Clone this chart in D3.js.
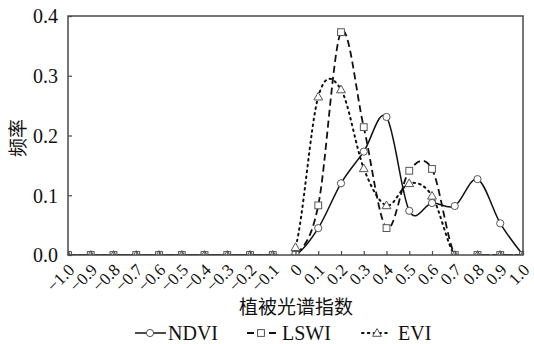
<!DOCTYPE html>
<html>
<head>
<meta charset="utf-8">
<script src="https://cdn.jsdelivr.net/npm/d3@7"></script>
<style>
  html, body { margin: 0; padding: 0; background: #fff; }
  svg { display: block; }
</style>
</head>
<body>
<svg id="chart" width="534" height="344"></svg>
<script>
// Vegetation index values (x categories)
const indexValues = [-1.0, -0.9, -0.8, -0.7, -0.6, -0.5, -0.4, -0.3, -0.2, -0.1,
                     0.0, 0.1, 0.2, 0.3, 0.4, 0.5, 0.6, 0.7, 0.8, 0.9, 1.0];
const xTickLabels = ["−1.0", "−0.9", "−0.8", "−0.7", "−0.6", "−0.5", "−0.4", "−0.3", "−0.2", "−0.1",
                     "0", "0.1", "0.2", "0.3", "0.4", "0.5", "0.6", "0.7", "0.8", "0.9", "1.0"];
const yTickValues = [0.0, 0.1, 0.2, 0.3, 0.4];
const yTickLabels = ["0.0", "0.1", "0.2", "0.3", "0.4"];

// Frequency of each index value
const ndvi = [0, 0, 0, 0, 0, 0, 0, 0, 0, 0,
              0, 0.045, 0.120, 0.173, 0.231, 0.074, 0.087, 0.082, 0.127, 0.053, 0];
const lswi = [0, 0, 0, 0, 0, 0, 0, 0, 0, 0,
              0, 0.083, 0.373, 0.214, 0.045, 0.141, 0.144, 0, 0, 0, 0];
const evi  = [0, 0, 0, 0, 0, 0, 0, 0, 0, 0,
              0.013, 0.265, 0.277, 0.145, 0.083, 0.120, 0.099, 0, 0, 0, 0];

const seriesNames = ["NDVI", "LSWI", "EVI"];

const svg = d3.select("#chart");
const serif = '"Liberation Serif", "Times New Roman", serif';
const cjk = '"Noto Sans CJK SC", "Noto Sans CJK JP", sans-serif';
const frameColor = "#4a4a4a";

const plot = { left: 68, right: 523, top: 16, bottom: 255 };

const x = d3.scaleLinear().domain([-1, 1]).range([plot.left, plot.right]);
const y = d3.scaleLinear().domain([0, 0.4]).range([plot.bottom, plot.top]);

svg.append("defs").append("clipPath").attr("id", "plotClip")
  .append("rect")
  .attr("x", plot.left).attr("y", plot.top)
  .attr("width", plot.right - plot.left).attr("height", plot.bottom - plot.top);

// Series styles
const styles = {
  NDVI: { values: ndvi, dash: null, width: 1.5, marker: "circle" },
  LSWI: { values: lswi, dash: "7,4", width: 1.8, marker: "square" },
  EVI:  { values: evi,  dash: "1.6,4.2", width: 2, marker: "triangle" }
};

const line = d3.line()
  .x(d => x(d[0]))
  .y(d => y(d[1]))
  .curve(d3.curveCardinal.tension(0));

const layer = svg.append("g").attr("clip-path", "url(#plotClip)");

function drawMarker(g, type, cx, cy) {
  const stroke = "#555", sw = 1;
  if (type === "circle") {
    g.append("circle").attr("cx", cx).attr("cy", cy).attr("r", 3.6)
      .attr("fill", "#fff").attr("stroke", stroke).attr("stroke-width", sw);
  } else if (type === "square") {
    g.append("rect").attr("x", cx - 3.4).attr("y", cy - 3.4).attr("width", 6.8).attr("height", 6.8)
      .attr("fill", "#fff").attr("stroke", stroke).attr("stroke-width", sw);
  } else {
    const s = 4.4;
    g.append("path")
      .attr("d", `M${cx},${cy - s}L${cx + s},${cy + s * 0.75}L${cx - s},${cy + s * 0.75}Z`)
      .attr("fill", "#fff").attr("stroke", stroke).attr("stroke-width", sw);
  }
}

seriesNames.forEach(name => {
  const st = styles[name];
  const pts = indexValues.map((v, i) => [v, st.values[i]]);
  layer.append("path")
    .attr("d", line(pts))
    .attr("fill", "none")
    .attr("stroke", "#111")
    .attr("stroke-width", st.width)
    .attr("stroke-dasharray", st.dash)
    .attr("stroke-linecap", name === "EVI" ? "round" : "butt");
});

seriesNames.forEach(name => {
  const st = styles[name];
  const mg = layer.append("g");
  indexValues.forEach((v, i) => drawMarker(mg, st.marker, x(v), y(st.values[i])));
});

// Frame
svg.append("rect")
  .attr("x", plot.left).attr("y", plot.top)
  .attr("width", plot.right - plot.left).attr("height", plot.bottom - plot.top)
  .attr("fill", "none").attr("stroke", frameColor).attr("stroke-width", 1.5);

// Y axis
const yAxis = d3.axisLeft(y)
  .tickValues(yTickValues)
  .tickSize(-4)
  .tickPadding(10)
  .tickFormat((d, i) => yTickLabels[i]);
const gy = svg.append("g").attr("transform", `translate(${plot.left},0)`).call(yAxis);
gy.select(".domain").remove();
gy.selectAll(".tick line").attr("stroke", frameColor).attr("stroke-width", 1.2);
gy.selectAll(".tick text")
  .style("font-family", serif)
  .style("font-size", "20px").attr("fill", "#111")
  .attr("dy", "0.34em");

// X axis
const xAxis = d3.axisBottom(x)
  .tickValues(indexValues)
  .tickSize(-4)
  .tickFormat((d, i) => xTickLabels[i]);
const gx = svg.append("g").attr("transform", `translate(0,${plot.bottom})`).call(xAxis);
gx.select(".domain").remove();
gx.selectAll(".tick line").attr("stroke", frameColor).attr("stroke-width", 1.2);
gx.selectAll(".tick text")
  .style("font-family", serif)
  .style("font-size", "17px").attr("fill", "#111")
  .attr("text-anchor", "end")
  .attr("y", 0).attr("dy", 0)
  .attr("transform", "translate(7,16) rotate(-45)");

// Axis titles
svg.append("text")
  .attr("x", 296).attr("y", 314)
  .attr("text-anchor", "middle")
  .style("font-family", cjk)
  .style("font-size", "19px").attr("fill", "#111")
  .text("植被光谱指数");

svg.append("text")
  .attr("transform", "translate(25,138) rotate(-90)")
  .attr("text-anchor", "middle")
  .style("font-family", cjk)
  .style("font-size", "19px").attr("fill", "#111")
  .text("频率");

// Legend
const legendY = 333;
const legendItems = [
  { name: "NDVI", x1: 135, x2: 166, mx: 150, tx: 168 },
  { name: "LSWI", x1: 247, x2: 276, mx: 261, tx: 282 },
  { name: "EVI",  x1: 362, x2: 390, mx: 377, tx: 398 }
];
const lg = svg.append("g");
legendItems.forEach(item => {
  const st = styles[item.name];
  lg.append("line")
    .attr("x1", item.x1).attr("x2", item.x2)
    .attr("y1", legendY).attr("y2", legendY)
    .attr("stroke", "#111").attr("stroke-width", st.width)
    .attr("stroke-dasharray", st.dash)
    .attr("stroke-linecap", item.name === "EVI" ? "round" : "butt");
  drawMarker(lg, st.marker, item.mx, legendY);
  lg.append("text")
    .attr("x", item.tx).attr("y", legendY + 7)
    .style("font-family", serif)
    .style("font-size", "20px").attr("fill", "#111")
    .text(item.name);
});
</script>
</body>
</html>
